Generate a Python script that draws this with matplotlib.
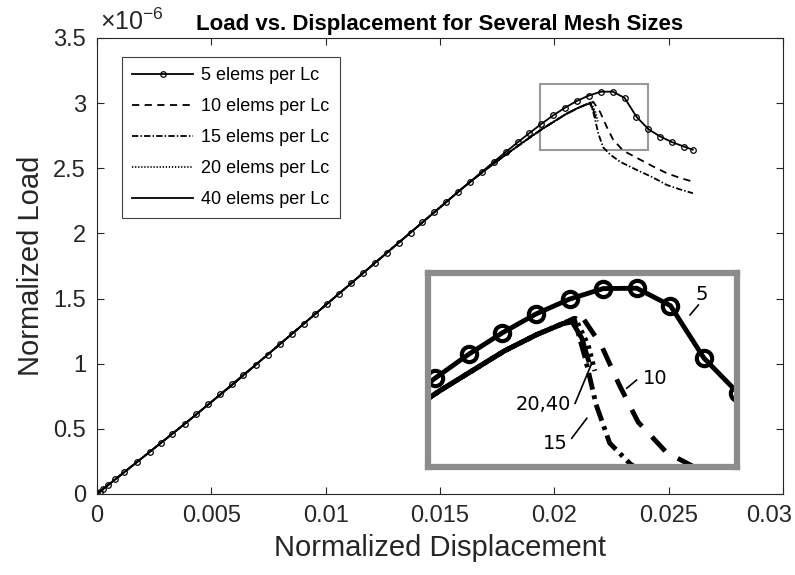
import matplotlib
matplotlib.use("Agg")
import matplotlib.pyplot as plt
import matplotlib.transforms as mtransforms
from matplotlib.ticker import FuncFormatter
from matplotlib.patches import Rectangle

plt.rcParams['font.family'] = ['Liberation Sans', 'DejaVu Sans']
plt.rcParams['mathtext.fontset'] = 'custom'
plt.rcParams['mathtext.rm'] = 'Liberation Sans'

# loads are in units of 1e-6 (the axis multiplier)
# 5 elems per Lc - coarse mesh, drawn with markers
disp_5 = [0, 0.000125, 0.00028, 0.0005, 0.0008, 0.0012, 0.00175, 0.0023, 0.0028,
          0.0033, 0.00385, 0.00435, 0.00487, 0.0054, 0.0059, 0.0064, 0.00695,
          0.00747, 0.00799, 0.00851, 0.00903, 0.00955, 0.01007, 0.01059, 0.01111,
          0.01163, 0.01215, 0.01267, 0.01319, 0.01371, 0.01423, 0.01475, 0.01527,
          0.01579, 0.01631, 0.01683, 0.01735, 0.01787, 0.01839, 0.01891, 0.01943,
          0.01995, 0.02047, 0.02099, 0.02151, 0.02203, 0.02255, 0.02307, 0.02359,
          0.02411, 0.02463, 0.02515, 0.02567, 0.02605]
load_5 = [0, 0.017, 0.039, 0.07, 0.112, 0.168, 0.245, 0.322, 0.392,
          0.462, 0.540, 0.612, 0.688, 0.765, 0.840, 0.915, 0.993,
          1.070, 1.148, 1.226, 1.304, 1.382, 1.460, 1.538, 1.616,
          1.694, 1.772, 1.850, 1.928, 2.006, 2.084, 2.162, 2.240,
          2.318, 2.395, 2.472, 2.549, 2.624, 2.698, 2.770, 2.840,
          2.906, 2.965, 3.017, 3.058, 3.087, 3.088, 3.040, 2.895,
          2.800, 2.743, 2.700, 2.666, 2.642]

# finer meshes share the rising branch
disp_rise = [0, 0.002, 0.004, 0.006, 0.008, 0.010, 0.012, 0.014, 0.015, 0.016,
             0.017, 0.018, 0.019, 0.0195, 0.020, 0.0205, 0.021, 0.0214]
load_rise = [0, 0.28, 0.561, 0.85, 1.15, 1.45, 1.75, 2.05, 2.20, 2.35,
             2.49, 2.62, 2.745, 2.805, 2.86, 2.915, 2.96, 2.99]

disp_10_soft = [0.0217, 0.0220, 0.02228, 0.02257, 0.02301, 0.0236, 0.0243, 0.0249, 0.0255, 0.02606]
load_10_soft = [3.01, 2.931, 2.821, 2.719, 2.635, 2.58, 2.515, 2.463, 2.425, 2.397]

disp_15_soft = [0.02158, 0.02176, 0.02192, 0.02213, 0.02244, 0.02287, 0.0236, 0.0243, 0.02491, 0.0255, 0.02606]
load_15_soft = [3.005, 2.89, 2.767, 2.661, 2.605, 2.55, 2.487, 2.43, 2.372, 2.337, 2.308]

disp_20_soft = [0.0216, 0.0218, 0.0219]
load_20_soft = [3.005, 2.93, 2.86]

disp_40_soft = [0.02155, 0.0217, 0.0218]
load_40_soft = [2.995, 2.95, 2.89]

labels = ["5 elems per Lc", "10 elems per Lc", "15 elems per Lc",
          "20 elems per Lc", "40 elems per Lc"]

curves = [
    (disp_5, load_5, '-'),
    (disp_rise + disp_10_soft, load_rise + load_10_soft, (0, (4, 3))),
    (disp_rise + disp_15_soft, load_rise + load_15_soft, (0, (3.5, 1.2, 0.8, 1.2))),
    (disp_rise + disp_20_soft, load_rise + load_20_soft, (0, (0.7, 1.0))),
    (disp_rise + disp_40_soft, load_rise + load_40_soft, '-'),
]

fig = plt.figure(figsize=(7.95, 5.75), dpi=100)
ax = fig.add_axes([0.122, 0.141, 0.863, 0.793])

for i, (x, y, ls) in enumerate(curves):
    if i == 0:
        ax.plot(x, y, color='k', ls=ls, lw=1.3, marker='o', ms=4, mfc='none',
                mew=0.9, label=labels[i])
    else:
        ax.plot(x, y, color='k', ls=ls, lw=1.3, label=labels[i])

ax.set_xlim(0, 0.03)
ax.set_ylim(0, 3.5)
ax.set_xticks([0, 0.005, 0.01, 0.015, 0.02, 0.025, 0.03])
ax.set_yticks([0, 0.5, 1, 1.5, 2, 2.5, 3, 3.5])
ax.xaxis.set_major_formatter(FuncFormatter(lambda v, p: '%g' % v))
ax.yaxis.set_major_formatter(FuncFormatter(lambda v, p: '%g' % v))
ax.tick_params(direction='in', length=5, width=0.8, labelsize=17, colors='0.15',
               top=True, right=True, pad=8)
for s in ax.spines.values():
    s.set_color('0.15')
    s.set_linewidth(0.8)

# last x tick label sits against the figure edge
fig.canvas.draw()
last = ax.get_xticklabels()[-1]
last.set_transform(last.get_transform() +
                   mtransforms.ScaledTranslation(-14 / 100, 0, fig.dpi_scale_trans))

ax.set_xlabel("Normalized Displacement", fontsize=21, color='0.15', labelpad=5)
ax.set_ylabel("Normalized Load", fontsize=21, color='0.15', labelpad=6)
ax.set_title("Load vs. Displacement for Several Mesh Sizes", fontsize=16,
             fontweight='bold', pad=6)
fig.text(100 / 795, 1 - 30 / 575, "\u00d710$^{\\mathregular{-6}}$", fontsize=18,
         color='0.15', ha='left', va='baseline')

leg = ax.legend(loc='upper left', bbox_to_anchor=(0.0364, 0.958), borderaxespad=0,
                fontsize=13, handlelength=3.4, labelspacing=0.78, numpoints=1,
                fancybox=False, edgecolor='0.25', framealpha=1, borderpad=0.55,
                handletextpad=0.45)
leg.get_frame().set_linewidth(0.8)

# zoom box on the main axes
ax.add_patch(Rectangle((0.01937, 2.64), 0.00473, 0.507, fill=False,
                       ec='0.6', lw=1.5))

# inset, magnified view of the peak region
ins = fig.add_axes([428 / 795, 1 - 467 / 575, 309 / 795, 194 / 575])
for i, (x, y, ls) in enumerate(curves):
    if i == 0:
        ins.plot(x, y, color='k', ls=ls, lw=3.5, marker='o', ms=11, mfc='none', mew=3)
    else:
        ins.plot(x, y, color='k', ls=ls, lw=3.5)
ins.set_xlim(0.01932, 0.0241)
ins.set_ylim(2.595, 3.13)
ins.set_xticks([])
ins.set_yticks([])
for s in ins.spines.values():
    s.set_color('0.55')
    s.set_linewidth(4.5)

notes = [("5", (0.886, 0.887), (0.848, 0.784), (0.875, 0.835)),
         ("10", (0.735, 0.457), (0.643, 0.406), (0.675, 0.448)),
         ("20,40", (0.373, 0.320), (0.476, 0.328), (0.530, 0.535)),
         ("15", (0.411, 0.122), (0.465, 0.148), (0.514, 0.251))]
for txt, pos, p0, p1 in notes:
    ins.text(pos[0], pos[1], txt, transform=ins.transAxes, fontsize=14,
             family='DejaVu Sans', ha='center', va='center')
    ins.plot([p0[0], p1[0]], [p0[1], p1[1]], transform=ins.transAxes,
             color='k', lw=1.2)

fig.savefig("out.png", dpi=100)
